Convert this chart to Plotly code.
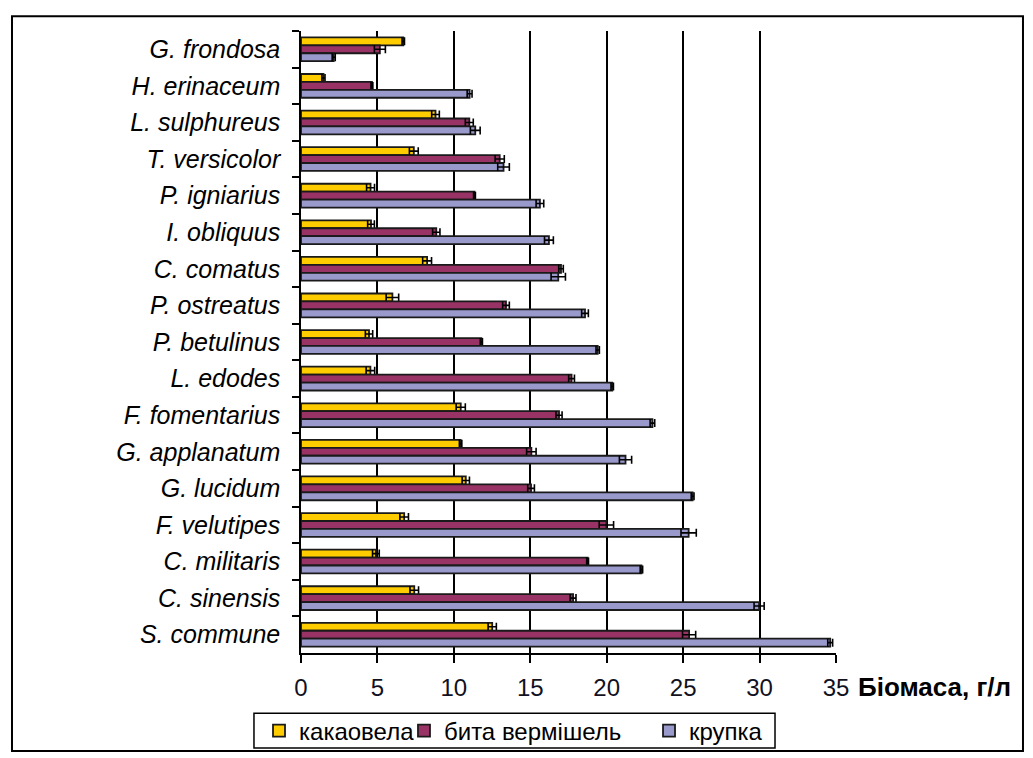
import plotly.graph_objects as go

species = ["G. frondosa", "H. erinaceum", "L. sulphureus", "T. versicolor", "P. igniarius",
           "I. obliquus", "C. comatus", "P. ostreatus", "P. betulinus", "L. edodes",
           "F. fomentarius", "G. applanatum", "G. lucidum", "F. velutipes", "C. militaris",
           "C. sinensis", "S. commune"]

kakaovela = [6.69, 1.47, 8.8, 7.38, 4.55, 4.58, 8.25, 5.98, 4.45, 4.54,
             10.45, 10.44, 10.78, 6.75, 4.9, 7.41, 12.51]
kakaovela_err = [0.08, 0.1, 0.25, 0.29, 0.26, 0.22, 0.29, 0.41, 0.24, 0.28,
                 0.3, 0.08, 0.24, 0.28, 0.22, 0.28, 0.27]

vermishel = [5.16, 4.64, 11.01, 13.0, 11.35, 8.85, 17.01, 13.41, 11.8, 17.7,
             16.88, 15.07, 15.05, 19.98, 18.75, 17.8, 25.39]
vermishel_err = [0.36, 0.06, 0.26, 0.3, 0.06, 0.24, 0.15, 0.22, 0.07, 0.19,
                 0.2, 0.31, 0.22, 0.47, 0.06, 0.19, 0.43]

krupka = [2.14, 11.03, 11.4, 13.25, 15.63, 16.22, 16.83, 18.58, 19.41, 20.36,
          22.99, 21.23, 25.62, 25.36, 22.27, 29.97, 34.62]
krupka_err = [0.1, 0.16, 0.32, 0.38, 0.25, 0.29, 0.47, 0.22, 0.11, 0.08,
              0.15, 0.4, 0.09, 0.5, 0.08, 0.33, 0.16]

series_names = ["какаовела", "бита вермішель", "крупка"]
series_colors = ["#FFCC00", "#993366", "#9999CC"]
series_values = [kakaovela, vermishel, krupka]
series_errors = [kakaovela_err, vermishel_err, krupka_err]

FONT = "Liberation Sans, Arial, sans-serif"

legend_ids = ["legend", "legend2", "legend3"]
legend_x = [-0.0785, 0.1925, 0.6505]

fig = go.Figure()
for name, color, vals, errs, lid in zip(series_names, series_colors, series_values,
                                         series_errors, legend_ids):
    fig.add_trace(go.Bar(
        y=species, x=vals, name=name, orientation="h", legend=lid,
        marker=dict(color=color, line=dict(color="#1a1a1a", width=1.8)),
        error_x=dict(type="data", array=errs, symmetric=True,
                     color="black", thickness=1.6, width=4),
    ))

legend_common = dict(orientation="h", y=-0.1256, xanchor="left", yanchor="middle",
                     borderwidth=0, bgcolor="rgba(0,0,0,0)",
                     font=dict(size=24, family=FONT, color="black"))

fig.update_layout(
    width=1025, height=758,
    margin=dict(l=293, r=197, t=23, b=106),
    paper_bgcolor="white", plot_bgcolor="white",
    barmode="group", bargap=0.35, bargroupgap=0,
    font=dict(family=FONT, color="black"),
    showlegend=True,
    legend=dict(x=legend_x[0], **legend_common),
    legend2=dict(x=legend_x[1], **legend_common),
    legend3=dict(x=legend_x[2], **legend_common),
    xaxis=dict(range=[0, 35], dtick=5, tick0=0, showgrid=True, gridcolor="black",
               gridwidth=1.5, zeroline=False, showline=True, linecolor="black",
               linewidth=1.5, ticks="outside", ticklen=8, tickcolor="black",
               tickwidth=1.5, tickfont=dict(size=24, family=FONT, color="#111122"),
               ticklabelstandoff=4),
    yaxis=dict(type="category", categoryorder="array", categoryarray=species,
               autorange="reversed", tickson="boundaries", ticks="outside",
               ticklen=7, tickcolor="black", tickwidth=1.5, showgrid=False,
               showline=True, linecolor="black", linewidth=1.5,
               tickfont=dict(size=25, family=FONT, color="black", style="italic"),
               ticklabelstandoff=14),
    annotations=[dict(text="<b>Біомаса, г/л</b>", xref="paper", yref="paper",
                      x=1.038, y=-0.054, xanchor="left", yanchor="middle",
                      showarrow=False, font=dict(size=26, family=FONT, color="black"))],
    shapes=[
        dict(type="rect", xref="paper", yref="paper",
             x0=-0.5402, x1=1.3495, y0=-0.1574, y1=1.0239,
             line=dict(color="black", width=2), fillcolor="rgba(0,0,0,0)"),
        dict(type="rect", xref="paper", yref="paper",
             x0=-0.0879, x1=0.886, y0=-0.1526, y1=-0.097,
             line=dict(color="black", width=1.5), fillcolor="rgba(0,0,0,0)"),
    ],
)

fig.write_html("out.html")
